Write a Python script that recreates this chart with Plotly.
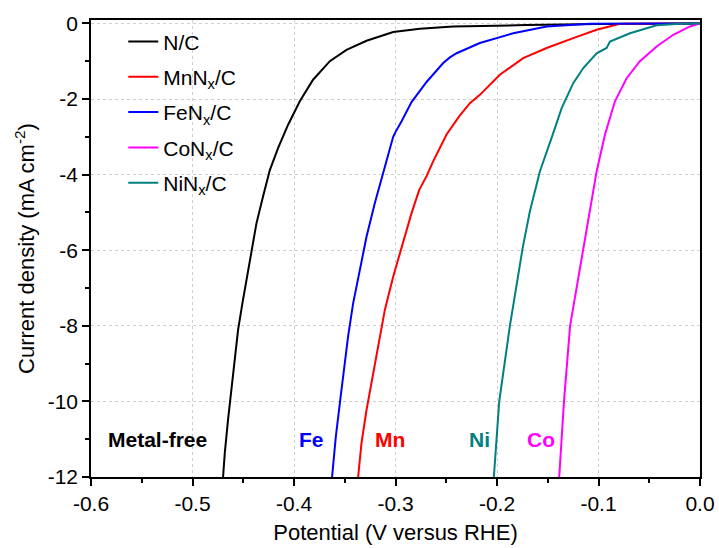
import plotly.graph_objects as go

# ---- data ----
nc_x = [-0.4699, -0.4682, -0.465, -0.4616, -0.4584, -0.4551, -0.4508, -0.4468, -0.4419, -0.437, -0.4305, -0.4238, -0.4157, -0.4058, -0.3943, -0.3812, -0.3647, -0.3483, -0.3285, -0.3023, -0.276, -0.2432, -0.171, -0.100, 0.0]
nc_y = [-12.0, -11.37, -10.49, -9.61, -8.81, -8.11, -7.40, -6.79, -5.99, -5.29, -4.58, -3.88, -3.30, -2.68, -2.06, -1.49, -1.0, -0.70, -0.46, -0.23, -0.14, -0.08, -0.045, -0.015, 0.0]

mn_x = [-0.3368, -0.3335, -0.3285, -0.3226, -0.3171, -0.3105, -0.3023, -0.294, -0.2842, -0.2767, -0.2694, -0.2629, -0.2497, -0.2373, -0.2267, -0.2169, -0.1972, -0.1742, -0.1511, -0.1249, -0.1018, -0.0788, 0.0]
mn_y = [-12.0, -11.10, -10.22, -9.34, -8.46, -7.58, -6.70, -5.91, -5.02, -4.41, -4.04, -3.65, -2.94, -2.46, -2.11, -1.89, -1.36, -0.92, -0.65, -0.39, -0.17, -0.01, 0.0]

fe_x = [-0.3625, -0.3588, -0.3548, -0.3509, -0.3467, -0.3417, -0.3351, -0.3285, -0.3204, -0.3115, -0.3023, -0.2995, -0.294, -0.2842, -0.2694, -0.253, -0.2464, -0.2398, -0.2169, -0.184, -0.1511, -0.1084, 0.0]
fe_y = [-12.0, -10.93, -10.04, -9.16, -8.28, -7.40, -6.52, -5.64, -4.76, -3.88, -3.0, -2.85, -2.59, -2.08, -1.55, -1.05, -0.9, -0.79, -0.52, -0.26, -0.08, -0.01, 0.0]

co_x = [-0.1387, -0.134, -0.128, -0.120, -0.115, -0.1084, -0.1018, -0.0936, -0.0838, -0.0723, -0.0592, -0.0427, -0.0263, -0.0099, 0.0]
co_y = [-12.0, -10.0, -8.0, -6.73, -5.94, -4.97, -3.91, -2.94, -2.06, -1.45, -1.0, -0.61, -0.30, -0.08, 0.0]

ni_x = [-0.2031, -0.1978, -0.1873, -0.1791, -0.1747, -0.1676, -0.1577, -0.1462, -0.1363, -0.1249, -0.115, -0.1018, -0.092, -0.0887, -0.069, -0.0427, -0.0197, 0.0]
ni_y = [-12.0, -10.0, -8.0, -6.73, -5.94, -4.97, -3.91, -3.03, -2.24, -1.58, -1.18, -0.79, -0.65, -0.48, -0.26, -0.05, -0.01, 0.0]

series_names = ["N/C", "MnN<sub>x</sub>/C", "FeN<sub>x</sub>/C", "CoN<sub>x</sub>/C", "NiN<sub>x</sub>/C"]
series_colors = ["#000000", "#FF0000", "#0000FF", "#FF00FF", "#008080"]
series_x = [nc_x, mn_x, fe_x, co_x, ni_x]
series_y = [nc_y, mn_y, fe_y, co_y, ni_y]

x_tickvals = [-0.6, -0.5, -0.4, -0.3, -0.2, -0.1, 0.0]
x_ticktext = ["-0.6", "-0.5", "-0.4", "-0.3", "-0.2", "-0.1", "0.0"]
y_tickvals = [0, -2, -4, -6, -8, -10, -12]
y_ticktext = ["0", "-2", "-4", "-6", "-8", "-10", "-12"]

label_text = ["Metal-free", "Fe", "Mn", "Ni", "Co"]
label_x = [-0.534, -0.383, -0.305, -0.217, -0.157]
label_colors = ["#000000", "#0000FF", "#FF0000", "#008080", "#FF00FF"]

FONT = "Liberation Sans, Arial, sans-serif"

fig = go.Figure()
for i in range(len(series_names)):
    fig.add_trace(go.Scatter(
        x=series_x[i], y=series_y[i], mode="lines", name=series_names[i],
        line=dict(color=series_colors[i], width=2),
        legendgroup=f"g{i}",
    ))

for t, xx, c in zip(label_text, label_x, label_colors):
    fig.add_annotation(x=xx, y=-11.0, text=f"<b>{t}</b>", showarrow=False,
                       font=dict(family=FONT, size=21, color=c),
                       xanchor="center", yanchor="middle")

axis_common = dict(
    showline=True, linecolor="black", linewidth=1.5, mirror=True,
    ticks="outside", ticklen=7, tickwidth=1.5, tickcolor="black",
    showgrid=True, gridcolor="#cfcfcf", griddash="dot", gridwidth=1,
    zeroline=False,
    tickfont=dict(family=FONT, size=21, color="black"),
)

fig.update_xaxes(
    range=[-0.6, 0.0], tickmode="array", tickvals=x_tickvals, ticktext=x_ticktext,
    minor=dict(tickmode="linear", tick0=0, dtick=0.05, ticks="outside", ticklen=4,
               tickwidth=1.5, tickcolor="black", showgrid=False),
    title=dict(text="Potential (V versus RHE)", font=dict(family=FONT, size=22, color="black"), standoff=11),
    **axis_common,
)
fig.update_yaxes(
    range=[-12.0, 0.09], tickmode="array", tickvals=y_tickvals, ticktext=y_ticktext,
    minor=dict(tickmode="linear", tick0=0, dtick=1, ticks="outside", ticklen=4,
               tickwidth=1.5, tickcolor="black", showgrid=False),
    title=dict(text="Current density (mA cm<sup>-2</sup>)", font=dict(family=FONT, size=22, color="black"), standoff=7),
    **axis_common,
)

fig.update_layout(
    width=719, height=548,
    margin=dict(l=91, r=19, t=20, b=71, autoexpand=False),
    plot_bgcolor="white", paper_bgcolor="white",
    font=dict(family=FONT, color="black"),
    showlegend=True,
    legend=dict(x=0.053, y=0.997, xanchor="left", yanchor="top",
                bgcolor="rgba(0,0,0,0)", borderwidth=0,
                font=dict(family=FONT, size=21, color="black"),
                tracegroupgap=5, itemwidth=30),
)

fig.write_html("out.html", config={"displayModeBar": False},
               post_script="document.body.style.margin='0px';document.body.style.overflow='hidden';")
